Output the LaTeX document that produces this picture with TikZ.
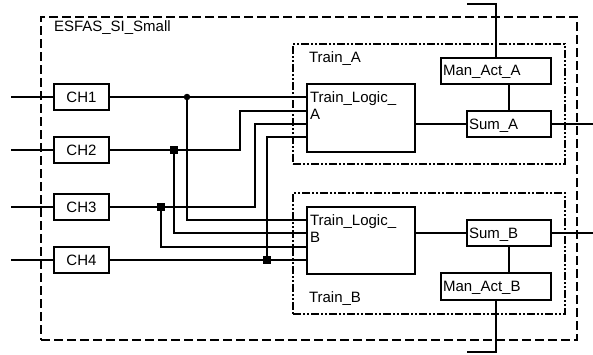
\documentclass[tikz,border=0pt]{standalone}
\usepackage{fontspec}
\setmainfont{Liberation Sans}
\begin{document}
\begin{tikzpicture}[x=1pt,y=-1pt, line width=2pt,
  box/.style={draw, line width=2pt, inner sep=0pt, font=\fontsize{15}{17}\selectfont},
  lbl/.style={inner sep=0pt, anchor=base west, font=\fontsize{15}{17}\selectfont},
  outerbox/.style={draw, line width=2pt, dash pattern=on 9pt off 4pt, inner sep=0pt},
  trainbox/.style={draw, line width=2pt, dash pattern=on 8pt off 2pt on 2pt off 2pt on 2pt off 2pt, inner sep=0pt},
  jdot/.style={circle, fill, inner sep=0pt, minimum size=6.5pt},
  jsq/.style={rectangle, fill, inner sep=0pt, minimum size=7.5pt}]
\useasboundingbox (0,0) rectangle (593,354);

% containers
\node[outerbox, minimum width=536pt, minimum height=323pt] (esfas) at (309,178.5) {};
\node[trainbox, minimum width=272pt, minimum height=120pt] (trA) at (429,104) {};
\node[trainbox, minimum width=272pt, minimum height=121pt] (trB) at (429,253.5) {};

% channel boxes
\node[box, minimum width=55pt, minimum height=26pt] (ch1) at (81.5,97) {CH1};
\node[box, minimum width=55pt, minimum height=26pt] (ch2) at (81.5,150) {CH2};
\node[box, minimum width=55pt, minimum height=26pt] (ch3) at (81.5,207) {CH3};
\node[box, minimum width=55pt, minimum height=26pt] (ch4) at (81.5,260) {CH4};

% train logic
\node[box, minimum width=108pt, minimum height=68pt] (tla) at (361,118) {};
\node[box, minimum width=108pt, minimum height=67pt] (tlb) at (361,240.5) {};

% sum / man act
\node[box, minimum width=110pt, minimum height=26pt] (mana) at (496,71) {};
\node[box, minimum width=84pt, minimum height=26pt] (suma) at (509,124) {};
\node[box, minimum width=84pt, minimum height=26pt] (sumb) at (509,233) {};
\node[box, minimum width=110pt, minimum height=27pt] (manb) at (496,286.5) {};

% labels
\node[lbl] (lesfas) at (53,31) {ESFAS\_SI\_Small};
\node[lbl] (ltrA) at (308,62) {Train\_A};
\node[lbl] (ltrB) at (308,302) {Train\_B};
\node[lbl] (ltla1) at (309,102) {Train\_Logic\_};
\node[lbl] (ltla2) at (309,119) {A};
\node[lbl] (ltlb1) at (309,225) {Train\_Logic\_};
\node[lbl] (ltlb2) at (309,242) {B};
\node[lbl] (lmana) at (442,75) {Man\_Act\_A};
\node[lbl] (lsuma) at (468,129) {Sum\_A};
\node[lbl] (lsumb) at (468,238) {Sum\_B};
\node[lbl] (lmanb) at (442,291) {Man\_Act\_B};

% coordinates
\coordinate (in1) at (11,97);
\coordinate (in2) at (11,150);
\coordinate (in3) at (11,207);
\coordinate (in4) at (11,260);
\coordinate (ta1) at (307,97);
\coordinate (ta2) at (307,111);
\coordinate (ta3) at (307,124);
\coordinate (ta4) at (307,137);
\coordinate (tb1) at (307,220);
\coordinate (tb2) at (307,233);
\coordinate (tb3) at (307,247);
\coordinate (tb4) at (307,260);
\coordinate (j1) at (187,97);
\coordinate (j2) at (174,150);
\coordinate (j3) at (161,207);
\coordinate (j4) at (267,260);
\coordinate (outA) at (593,124);
\coordinate (outB) at (593,233);
\coordinate (topA) at (467,4);
\coordinate (botB) at (467,352);

% inputs
\draw (in1) -- (ch1.west);
\draw (in2) -- (ch2.west);
\draw (in3) -- (ch3.west);
\draw (in4) -- (ch4.west);

% channel wiring
\draw (ch1.east) -- (ta1);
\draw (j1) |- (tb1);
\draw (ch2.east) -- (240,150) -- (240,111) -- (ta2);
\draw (j2) |- (tb2);
\draw (ch3.east) -- (255,207) -- (255,124) -- (ta3);
\draw (j3) |- (tb3);
\draw (ch4.east) -- (tb4);
\draw (j4) |- (ta4);

% train A
\draw (tla.east |- suma.west) -- (suma.west);
\draw (suma.east) -- (outA);
\draw (suma.north) -- (suma.north |- mana.south);
\draw (mana.north) |- (topA);

% train B
\draw (tlb.east |- sumb.west) -- (sumb.west);
\draw (sumb.east) -- (outB);
\draw (sumb.south) -- (sumb.south |- manb.north);
\draw (manb.south) |- (botB);

% junctions
\node[jdot] (d1) at (j1) {};
\node[jsq] (d2) at (j2) {};
\node[jsq] (d3) at (j3) {};
\node[jsq] (d4) at (j4) {};
\end{tikzpicture}
\end{document}
